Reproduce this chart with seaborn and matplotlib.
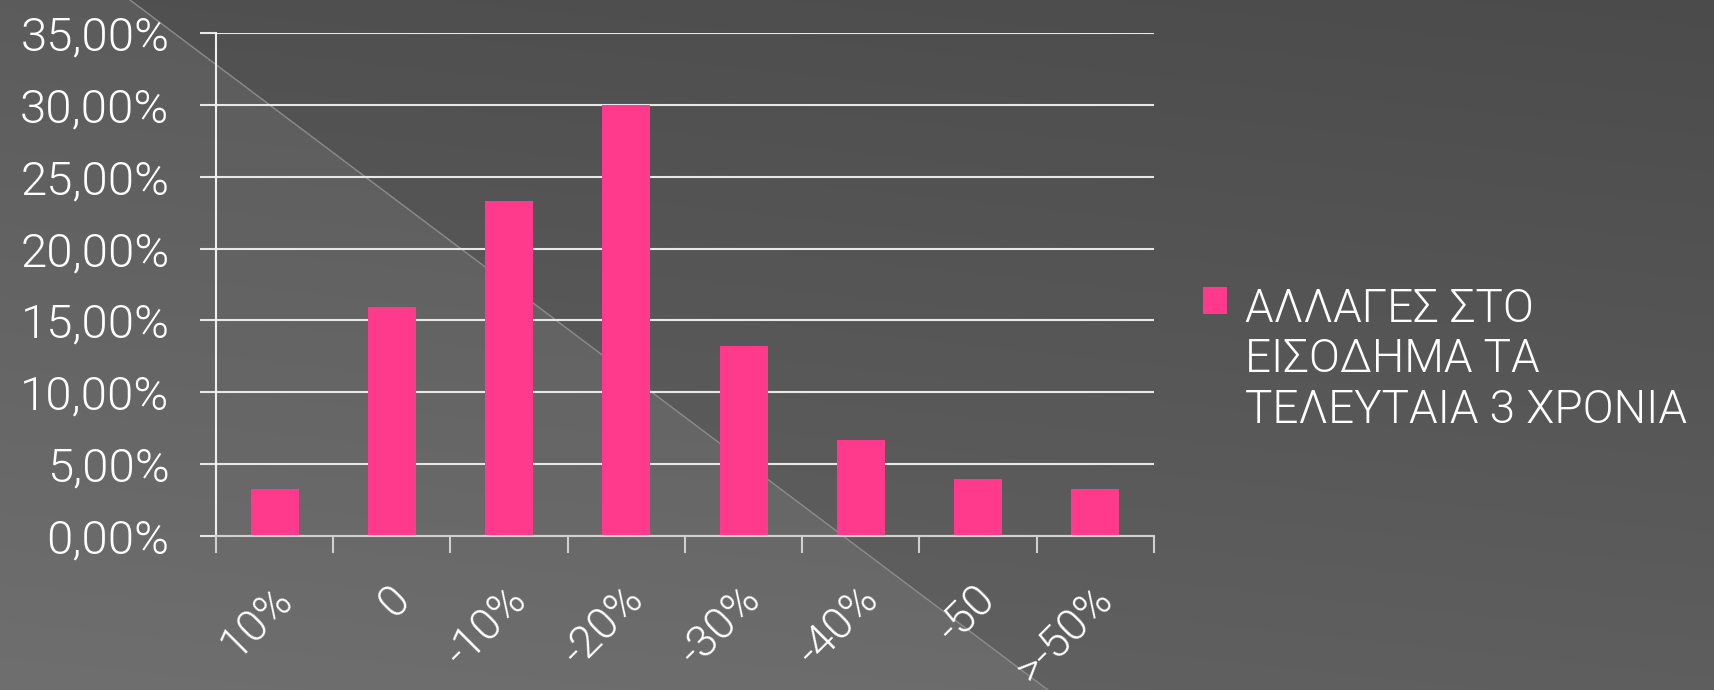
import numpy as np
import pandas as pd
import matplotlib.pyplot as plt
import matplotlib.ticker as mticker
import matplotlib.transforms as mtransforms
import seaborn as sns

categories = ["10%", "0", "-10%", "-20%", "-30%", "-40%", "-50", ">-50%"]
shares = [3.3, 15.9, 23.3, 30.0, 13.2, 6.7, 4.0, 3.3]
series_name = "ΑΛΛΑΓΕΣ ΣΤΟ\nΕΙΣΟΔΗΜΑ ΤΑ\nΤΕΛΕΥΤΑΙΑ 3 ΧΡΟΝΙΑ"
y_ticks = [0, 5, 10, 15, 20, 25, 30, 35]

pink = "#FF3A8C"

sns.set_style("dark")
plt.rcParams['font.family'] = ['Roboto', 'DejaVu Sans']
plt.rcParams['font.weight'] = 300

W, H = 1715, 690
fig = plt.figure(figsize=(W / 100, H / 100), dpi=100)

# slide background: dark gradient with lighter lower-left triangle
bg = fig.add_axes([0, 0, 1, 1])
bg.set_axis_off()
yy, xx = np.mgrid[0:H, 0:W]
shade = 0.295 + 0.075 * (yy / H) + 0.02 * (1 - xx / W)
shade = shade + 0.045 * (xx < 130 + yy / 0.752)
bg.imshow(np.dstack([shade] * 3), extent=(0, W, H, 0), aspect='auto')
bg.plot([130, 1048], [0, 690], color='#8c8c8c', lw=1)
bg.set_xlim(0, W)
bg.set_ylim(H, 0)

ax = fig.add_axes([216 / W, (H - 536) / H, (1154 - 216) / W, (536 - 33) / H])
ax.set_facecolor('none')

df = pd.DataFrame({"category": categories, "share": shares, "series": series_name})
sns.barplot(data=df, x="category", y="share", hue="series", palette=[pink],
            saturation=1, width=0.41, legend=False, linewidth=0, ax=ax)

ax.set_xlim(-0.5, len(categories) - 0.5)
ax.set_ylim(0, 35)
ax.set_xlabel("")
ax.set_ylabel("")

ax.set_yticks(y_ticks)
ax.yaxis.set_major_formatter(mticker.FuncFormatter(lambda v, p: f"{v:.2f}%".replace('.', ',')))
ax.yaxis.grid(True, color='#e8e8e8', lw=1.5)
ax.xaxis.grid(False)
ax.set_axisbelow(True)

for s in ['top', 'right']:
    ax.spines[s].set_visible(False)
ax.spines['left'].set_color('#f0f0f0')
ax.spines['left'].set_linewidth(1.5)
ax.spines['bottom'].set_color('#d0d0d0')
ax.spines['bottom'].set_linewidth(1.5)

ax.tick_params(axis='y', left=True, length=11.5, width=1.5, color='#e8e8e8', pad=22,
               labelsize=34, labelcolor='white')
ax.set_xticks(np.arange(-0.5, len(categories)), minor=True)
ax.tick_params(axis='x', which='minor', bottom=True, length=12, width=1.5, color='#d0d0d0')
ax.tick_params(axis='x', which='major', bottom=True, length=0, pad=30, labelsize=32,
               labelcolor='white')
offset = mtransforms.ScaledTranslation(-4 / 100, 0, fig.dpi_scale_trans)
for lab in ax.get_xticklabels():
    lab.set_rotation(45)
    lab.set_ha('right')
    lab.set_va('top')
    lab.set_rotation_mode('anchor')
    lab.set_transform(lab.get_transform() + offset)

leg = fig.legend([ax.containers[0]], [series_name], loc='upper left',
                 bbox_to_anchor=(1203 / W, 1 - 287 / H), bbox_transform=fig.transFigure,
                 frameon=False, fontsize=33, handlelength=0.53, handleheight=0.53,
                 handletextpad=0.38, borderpad=0, borderaxespad=0)
for t in leg.get_texts():
    t.set_color('white')
    t.set_linespacing(1.18)
for col in leg._legend_handle_box.get_children():
    for item in col.get_children():
        item.align = 'top'

fig.savefig("out.png", dpi=100, facecolor=fig.get_facecolor())
